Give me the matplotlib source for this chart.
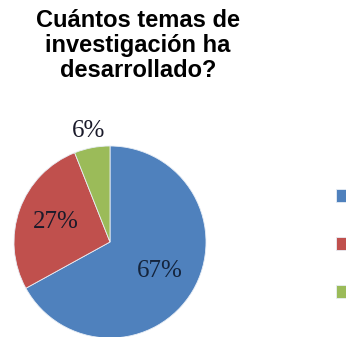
import matplotlib.pyplot as plt
import numpy as np

# temas de investigación desarrollados
categorias = ["1", "2", "3 o más"]
porcentajes = [67, 27, 6]
colores = ["#4F81BD", "#C0504D", "#9BBB59"]

W, H = 346, 337
fig = plt.figure(figsize=(W / 100, H / 100), dpi=100)

# eje del pastel: centro (110, 242) px, radio ~96 px
r = 96
ax = fig.add_axes([(110 - r) / W, (H - 242 - r) / H, 2 * r / W, 2 * r / H])

wedges, textos, pcts = ax.pie(
    porcentajes, colors=colores, startangle=90, counterclock=False,
    autopct="%1.0f%%", pctdistance=0.6,
    wedgeprops=dict(linewidth=0.6, edgecolor="#e8eef6"),
    textprops=dict(family="Liberation Serif", fontsize=18, color="#1a1a2a"),
)
ax.set_xlim(-1, 1)
ax.set_ylim(-1, 1)
ax.set_aspect("auto")
pcts[0].set_color("#14243c")

# la etiqueta pequeña va fuera del sector
w = wedges[2]
ang = np.deg2rad((w.theta1 + w.theta2) / 2)
pcts[2].set_position((1.18 * np.cos(ang), 1.18 * np.sin(ang)))

fig.text(138 / W, 1 - 9 / H,
         "Cuántos temas de\ninvestigación ha\ndesarrollado?",
         ha="center", va="top", fontsize=17, fontweight="bold",
         family="Liberation Sans", linespacing=1.1)

fig.legend(wedges, categorias, loc="upper left",
           bbox_to_anchor=(336 / W, 1 - 189 / H), frameon=False,
           fontsize=11, handlelength=0.92, handleheight=0.92,
           labelspacing=2.15, handletextpad=0.8, borderpad=0,
           borderaxespad=0)

fig.savefig("out.png", dpi=100)
